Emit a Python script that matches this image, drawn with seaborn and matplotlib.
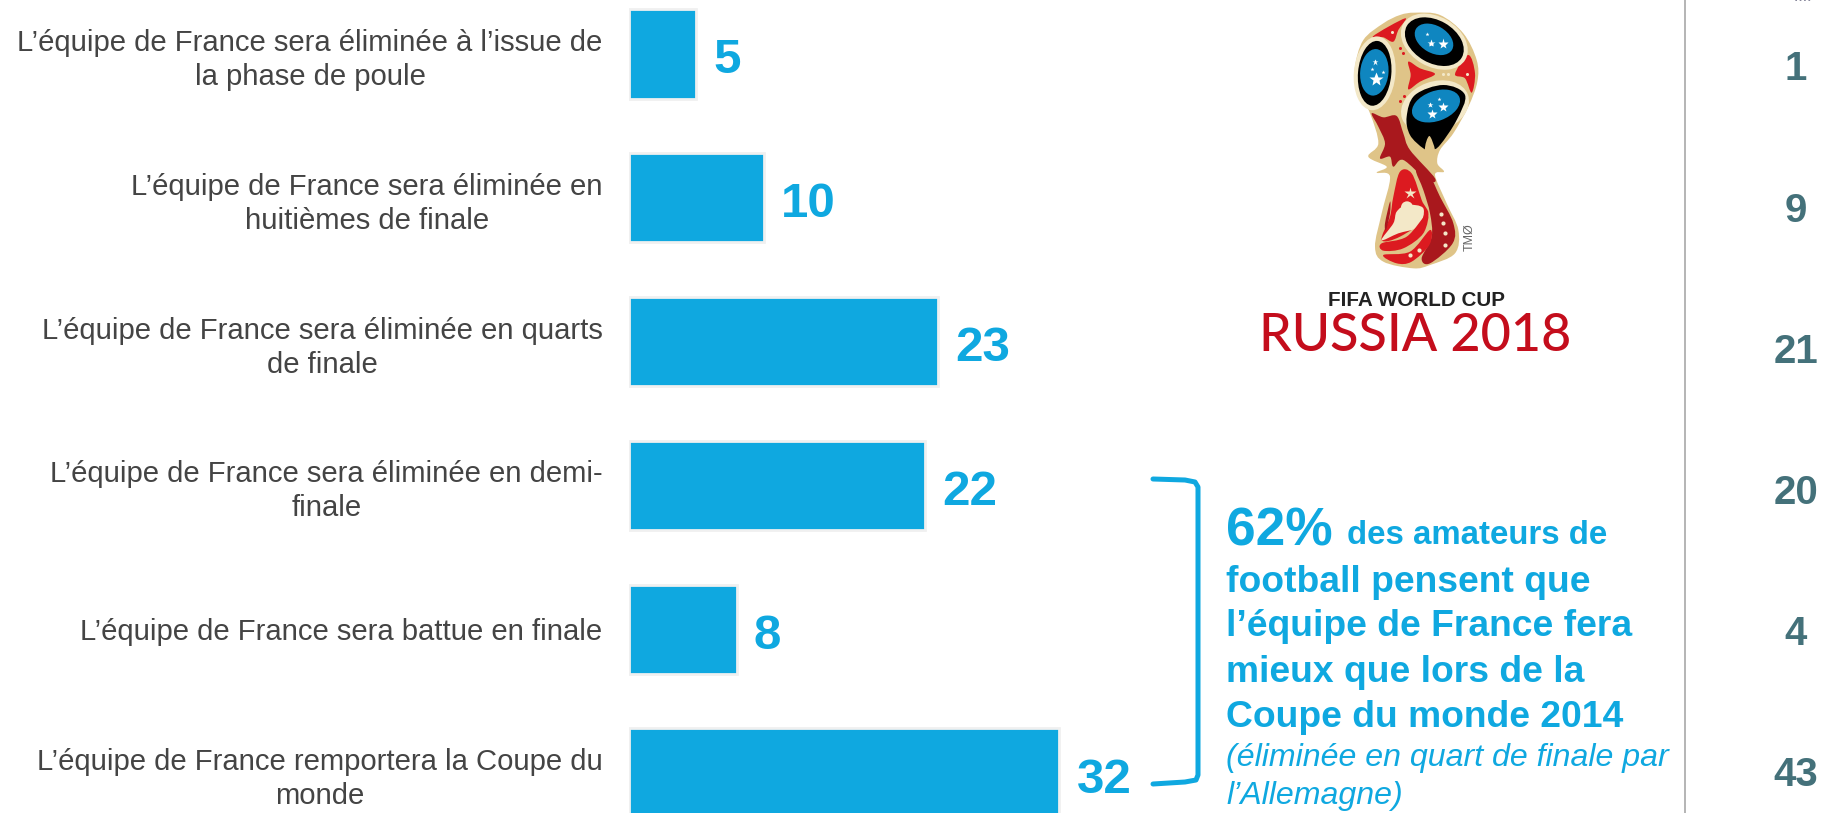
import numpy as np
import pandas as pd
import matplotlib
matplotlib.use("Agg")
import matplotlib.pyplot as plt
from matplotlib.patches import PathPatch, Ellipse
from matplotlib.path import Path
import seaborn as sns

categories = [
    "L’équipe de France sera éliminée à l’issue de\nla phase de poule",
    "L’équipe de France sera éliminée en\nhuitièmes de finale",
    "L’équipe de France sera éliminée en quarts\nde finale",
    "L’équipe de France sera éliminée en demi-\nfinale",
    "L’équipe de France sera battue en finale",
    "L’équipe de France remportera la Coupe du\nmonde",
]
values = [5, 10, 23, 22, 8, 32]
other_values = [1, 9, 21, 20, 4, 43]

BLUE = "#0fa8e0"
TEAL = "#44717a"
W, H = 1832, 813

sns.set_theme(style="white")
plt.rcParams["font.family"] = ["Liberation Sans", "DejaVu Sans"]

fig = plt.figure(figsize=(W / 100, H / 100), dpi=100, facecolor="white")
ROW = 143.8
TOP = 54.0
LEFT = 629.0
PX = 13.45
ax = fig.add_axes([LEFT / W, 0, (W - LEFT) / W, 1])
df = pd.DataFrame({"cat": categories, "val": values})
sns.barplot(data=df, y="cat", x="val", orient="h", ax=ax, color=BLUE, saturation=1,
            width=0.62, edgecolor="#f0f0f0", linewidth=2.0)
ax.set_xlim(0, (W - LEFT) / PX)
ax.set_ylim((H - TOP) / ROW, -TOP / ROW)
ax.set_xlabel("")
ax.set_ylabel("")
ax.set_xticks([])
ax.set_yticks(range(len(categories)))
ax.set_yticklabels(categories, fontsize=21.1, color="#444444", linespacing=1.27)
ax.tick_params(axis="y", length=0, pad=19)
for s in ax.spines.values():
    s.set_visible(False)
ax.patch.set_alpha(0)
for lab in ax.get_yticklabels():
    lab.set_ha("right")
    lab.set_multialignment("center")

for i, v in enumerate(values):
    ax.annotate(str(v), (v, i), xytext=(17, -7), textcoords="offset pixels",
                fontsize=35.5, fontweight="bold", color=BLUE, va="center", ha="left",
                annotation_clip=False)

# overlay in pixel coordinates for the non-data furniture
ov = fig.add_axes([0, 0, 1, 1], zorder=5)
ov.set_xlim(0, W)
ov.set_ylim(H, 0)
ov.axis("off")
ov.patch.set_alpha(0)

ov.plot([1685, 1685], [0, H], color="#a8a8a8", lw=1.2, solid_capstyle="butt")

for i, v in enumerate(other_values):
    ov.text(1796, 69.5 + i * 141.1, str(v), fontsize=29, fontweight="bold", color=TEAL,
            ha="center", va="center")
ov.text(1803, 0, "- - - -", fontsize=5, color="#333355", ha="center", va="center")

# bracket
t = np.array([[1153, 479], [1185, 480], [1195, 482], [1198, 487], [1198, 775], [1196, 780], [1185, 782], [1153, 784]])
ov.plot(t[:, 0], t[:, 1], color=BLUE, lw=3.6, solid_joinstyle="round")

# callout
tx = 1226
ov.text(tx, 531, "62%", fontsize=38.3, fontweight="bold", color=BLUE, va="center", ha="left")
ov.text(1347, 535, "des amateurs de", fontsize=23.8, fontweight="bold", color=BLUE, va="center", ha="left")
for y, s in zip([582, 626, 672, 717],
                ["football pensent que", "l’équipe de France fera", "mieux que lors de la", "Coupe du monde 2014"]):
    ov.text(tx, y, s, fontsize=26.8, fontweight="bold", color=BLUE, va="center", ha="left")
for y, s in zip([758, 796], ["(éliminée en quart de finale par", "l’Allemagne)"]):
    ov.text(tx, y, s, fontsize=23.1, style="italic", color=BLUE, va="center", ha="left")

# logo, traced by eye; lists are in a crop frame of the logo (3x, origin at 1340,10)
def L(pts):
    a = np.asarray(pts, float)
    return np.c_[1340 + a[:, 0] / 3, 10 + a[:, 1] / 3]

def smooth(pts, fc, z=6):
    p = L(pts)
    n = len(p)
    verts, codes = [p[0]], [Path.MOVETO]
    for i in range(n):
        p0, p1, p2, p3 = p[(i - 1) % n], p[i], p[(i + 1) % n], p[(i + 2) % n]
        verts += [p1 + (p2 - p0) / 6, p2 - (p3 - p1) / 6, p2]
        codes += [Path.CURVE4] * 3
    ov.add_patch(PathPatch(Path(verts, codes), fc=fc, ec="none", zorder=z))

def ell(x, y, w, h, ang, fc, z):
    c = L([[x, y]])[0]
    ov.add_patch(Ellipse(c, w / 3, h / 3, angle=ang, fc=fc, ec="none", zorder=z))

GOLD, RED, DARK, CREAM = "#dfc488", "#dc1a20", "#a9181d", "#f3e8c8"
# outer silhouette
smooth([(225, 8), (300, 15), (370, 70), (410, 150), (412, 215), (385, 290), (340, 370), (300, 420), (292, 460),
        (312, 485), (285, 495), (320, 580), (355, 660), (345, 730), (270, 765), (220, 775), (130, 755), (105, 710),
        (125, 610), (150, 500), (110, 488), (140, 470), (85, 440), (115, 400), (90, 310), (50, 230), (45, 170),
        (70, 90), (130, 40), (180, 15)], GOLD, 6)
# head, red panels
smooth([(100, 78), (195, 25), (175, 60), (160, 95), (130, 82)], RED, 7)
smooth([(205, 155), (240, 175), (285, 192), (240, 215), (205, 238), (212, 195)], RED, 7)
smooth([(345, 192), (385, 135), (405, 190), (395, 248), (375, 205)], RED, 7)
# cream rings and balls
ell(283, 95, 215, 150, 30, CREAM, 7)
ell(104, 190, 125, 222, 5, CREAM, 7)
ell(285, 290, 210, 150, -20, CREAM, 7)
ell(283, 95, 190, 128, 30, "black", 8)
ell(282, 88, 125, 82, 30, "#0f86c0", 9)
ell(104, 190, 100, 195, 5, "black", 8)
ell(103, 187, 85, 140, 5, "#0f86c0", 9)
smooth([(200, 320), (225, 255), (310, 225), (375, 255), (350, 330), (300, 405), (275, 420), (250, 415), (210, 375)], "black", 8)
ell(288, 288, 150, 90, -20, "#0f86c0", 9)
smooth([(255, 420), (268, 378), (285, 420), (280, 450)], GOLD, 10)
for x, y, s in [(272, 98, 6), (308, 102, 8), (260, 72, 3), (107, 208, 10), (105, 155, 5), (130, 186, 3), (96, 178, 3),
                (310, 292, 7), (277, 312, 7), (270, 284, 4), (298, 266, 3)]:
    ov.plot(*L([[x, y]])[0], marker="*", ms=s, color="white", mec="none", zorder=11)
for x, y in [(180, 113), (190, 128), (308, 193), (325, 193), (155, 65), (380, 193), (193, 258), (180, 272)]:
    ov.plot(*L([[x, y]])[0], marker="o", ms=2.2, color=RED if y != 65 and y != 193 else CREAM, mec="none", zorder=10)
# neck ribbon
smooth([(95, 310), (130, 322), (170, 318), (190, 370), (210, 420), (285, 505), (260, 510), (190, 450), (160, 470),
        (150, 440), (120, 445), (135, 400), (115, 350)], DARK, 7)
# base
smooth([(180, 485), (215, 490), (245, 570), (262, 620), (180, 680), (125, 690), (150, 620), (160, 560)], RED, 7)
smooth([(228, 480), (265, 490), (300, 560), (340, 640), (338, 700), (270, 760), (245, 745), (275, 680), (270, 610), (250, 540)], DARK, 8)
smooth([(130, 735), (210, 725), (270, 660), (268, 705), (215, 755), (170, 760)], RED, 9)
smooth([(170, 605), (200, 585), (250, 595), (235, 650), (175, 670), (125, 690), (160, 640)], CREAM, 9)
smooth([(125, 700), (200, 680), (262, 610), (250, 670), (190, 715), (130, 722)], RED, 10)
smooth([(135, 640), (150, 575), (150, 610), (138, 660)], DARK, 9)
ell(201, 592, 36, 36, 0, CREAM, 10)
ov.plot(*L([[210, 548]])[0], marker="*", ms=9, color=CREAM, mec="none", zorder=11)
for x, y in [(302, 612), (308, 638), (314, 668), (316, 704), (236, 720), (210, 735)]:
    ov.plot(*L([[x, y]])[0], marker="o", ms=3, color=CREAM, mec="none", zorder=11)
ov.text(1470, 237, "TMØ", fontsize=9, color="#666666", rotation=90, ha="center", va="center")

ov.text(1417, 300, "FIFA WORLD CUP", fontsize=14.9, fontweight="bold", color="#222222", ha="center", va="center")
ov.text(1415, 336, "RUSSIA 2018", fontsize=37.5, fontweight="medium", color="#c40d1c", ha="center", va="center",
        family=["Lato", "Liberation Sans"])

fig.savefig("out.png", dpi=100)
